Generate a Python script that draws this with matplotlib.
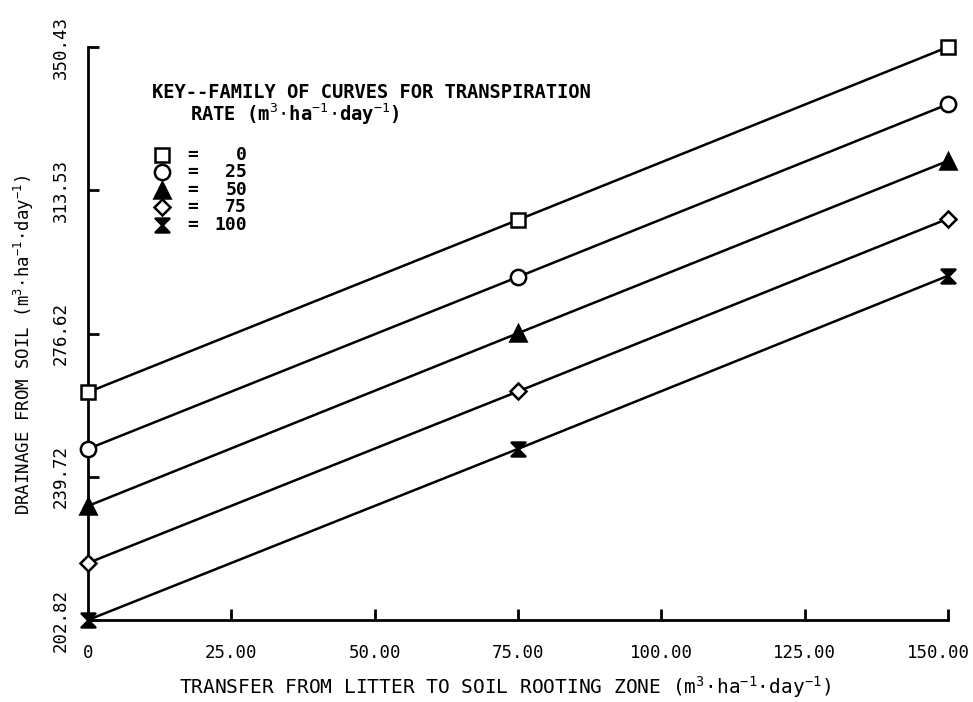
import matplotlib
matplotlib.use("Agg")
import matplotlib.pyplot as plt
from matplotlib.path import Path
from matplotlib.transforms import ScaledTranslation

plt.rcParams['font.family'] = ['DejaVu Sans Mono']
plt.rcParams['mathtext.fontset'] = 'custom'
plt.rcParams['mathtext.rm'] = 'DejaVu Sans Mono'
plt.rcParams['mathtext.bf'] = 'DejaVu Sans Mono:bold'
plt.rcParams['mathtext.default'] = 'rm'

# -------------------------------
# Data
# -------------------------------
transfer = [0, 75, 150]
rates = ['0', '25', '50', '75', '100']
drain_0 = [261.5, 305.9, 350.43]
drain_25 = [246.9, 291.2, 335.7]
drain_50 = [232.2, 276.7, 321.1]
drain_75 = [217.5, 261.7, 306.2]
drain_100 = [202.82, 246.9, 291.5]

xticks = [0, 25, 50, 75, 100, 125, 150]
xtick_labels = ['0', '25.00', '50.00', '75.00', '100.00', '125.00', '150.00']
yticks = [202.82, 239.72, 276.62, 313.53, 350.43]
ytick_labels = ['202.82', '239.72', '276.62', '313.53', '350.43']

# hourglass marker
hourglass = Path([(-1, 1), (1, 1), (-1, -1), (1, -1), (-1, 1)],
                 [Path.MOVETO, Path.LINETO, Path.LINETO, Path.LINETO, Path.CLOSEPOLY])

styles = [
    dict(marker='s', mfc='white', ms=10),
    dict(marker='o', mfc='white', ms=11),
    dict(marker='^', mfc='black', ms=11),
    dict(marker='D', mfc='white', ms=8),
    dict(marker=hourglass, mfc='black', ms=10),
]
series = [drain_0, drain_25, drain_50, drain_75, drain_100]

fig = plt.figure(figsize=(9.73, 7.02), dpi=100)
ax = fig.add_axes([0.0904, 0.1168, 0.8839, 0.8162])

for ys, st in zip(series, styles):
    ax.plot(transfer, ys, color='black', lw=1.8, mec='black', mew=1.8,
            clip_on=False, zorder=3, **st)

ax.set_xlim(0, 150)
ax.set_ylim(202.82, 350.43)
ax.spines['top'].set_visible(False)
ax.spines['right'].set_visible(False)
ax.spines['left'].set_linewidth(2)
ax.spines['bottom'].set_linewidth(2)

unit = '(m$^{3}$$\\cdot$ha$^{-1}$$\\cdot$day$^{-1}$)'

ax.set_xticks(xticks)
ax.set_xticklabels(xtick_labels, fontsize=12.5)
ax.set_yticks(yticks)
ax.set_yticklabels(ytick_labels, fontsize=12.5, rotation=90, va='center')
ax.tick_params(axis='both', direction='in', length=8, width=2)
ax.tick_params(axis='x', pad=17)
ax.tick_params(axis='y', pad=13)
# last x label sits a bit left of its tick in the original
last = ax.get_xticklabels()[-1]
last.set_transform(last.get_transform() + ScaledTranslation(-10 / 100, 0, fig.dpi_scale_trans))

ax.set_xlabel('TRANSFER FROM LITTER TO SOIL ROOTING ZONE ' + unit, fontsize=14)
ax.xaxis.set_label_coords(0.485, -0.095)
ax.set_ylabel('DRAINAGE FROM SOIL ' + unit, fontsize=12.5)
ax.yaxis.set_label_coords(-0.06, 0.48)

# -------------------------------
# Key
# -------------------------------
ax.text(0.0744, 0.92, 'KEY--FAMILY OF CURVES FOR TRANSPIRATION', transform=ax.transAxes,
        fontsize=13.5, fontweight='bold', va='center')
ax.text(0.1186, 0.883, 'RATE ' + unit, transform=ax.transAxes,
        fontsize=13.5, fontweight='bold', va='center')
for i, (r, st) in enumerate(zip(rates, styles)):
    yk = 0.812 - i * 0.0305
    ax.plot([0.086], [yk], transform=ax.transAxes, color='black', mec='black', mew=1.8,
            ls='none', clip_on=False, **st)
    ax.text(0.122, yk, '=', transform=ax.transAxes, fontsize=13, fontweight='bold',
            ha='center', va='center')
    ax.text(0.185, yk, r, transform=ax.transAxes, fontsize=13, fontweight='bold',
            ha='right', va='center')

fig.savefig('out.png', dpi=100)
